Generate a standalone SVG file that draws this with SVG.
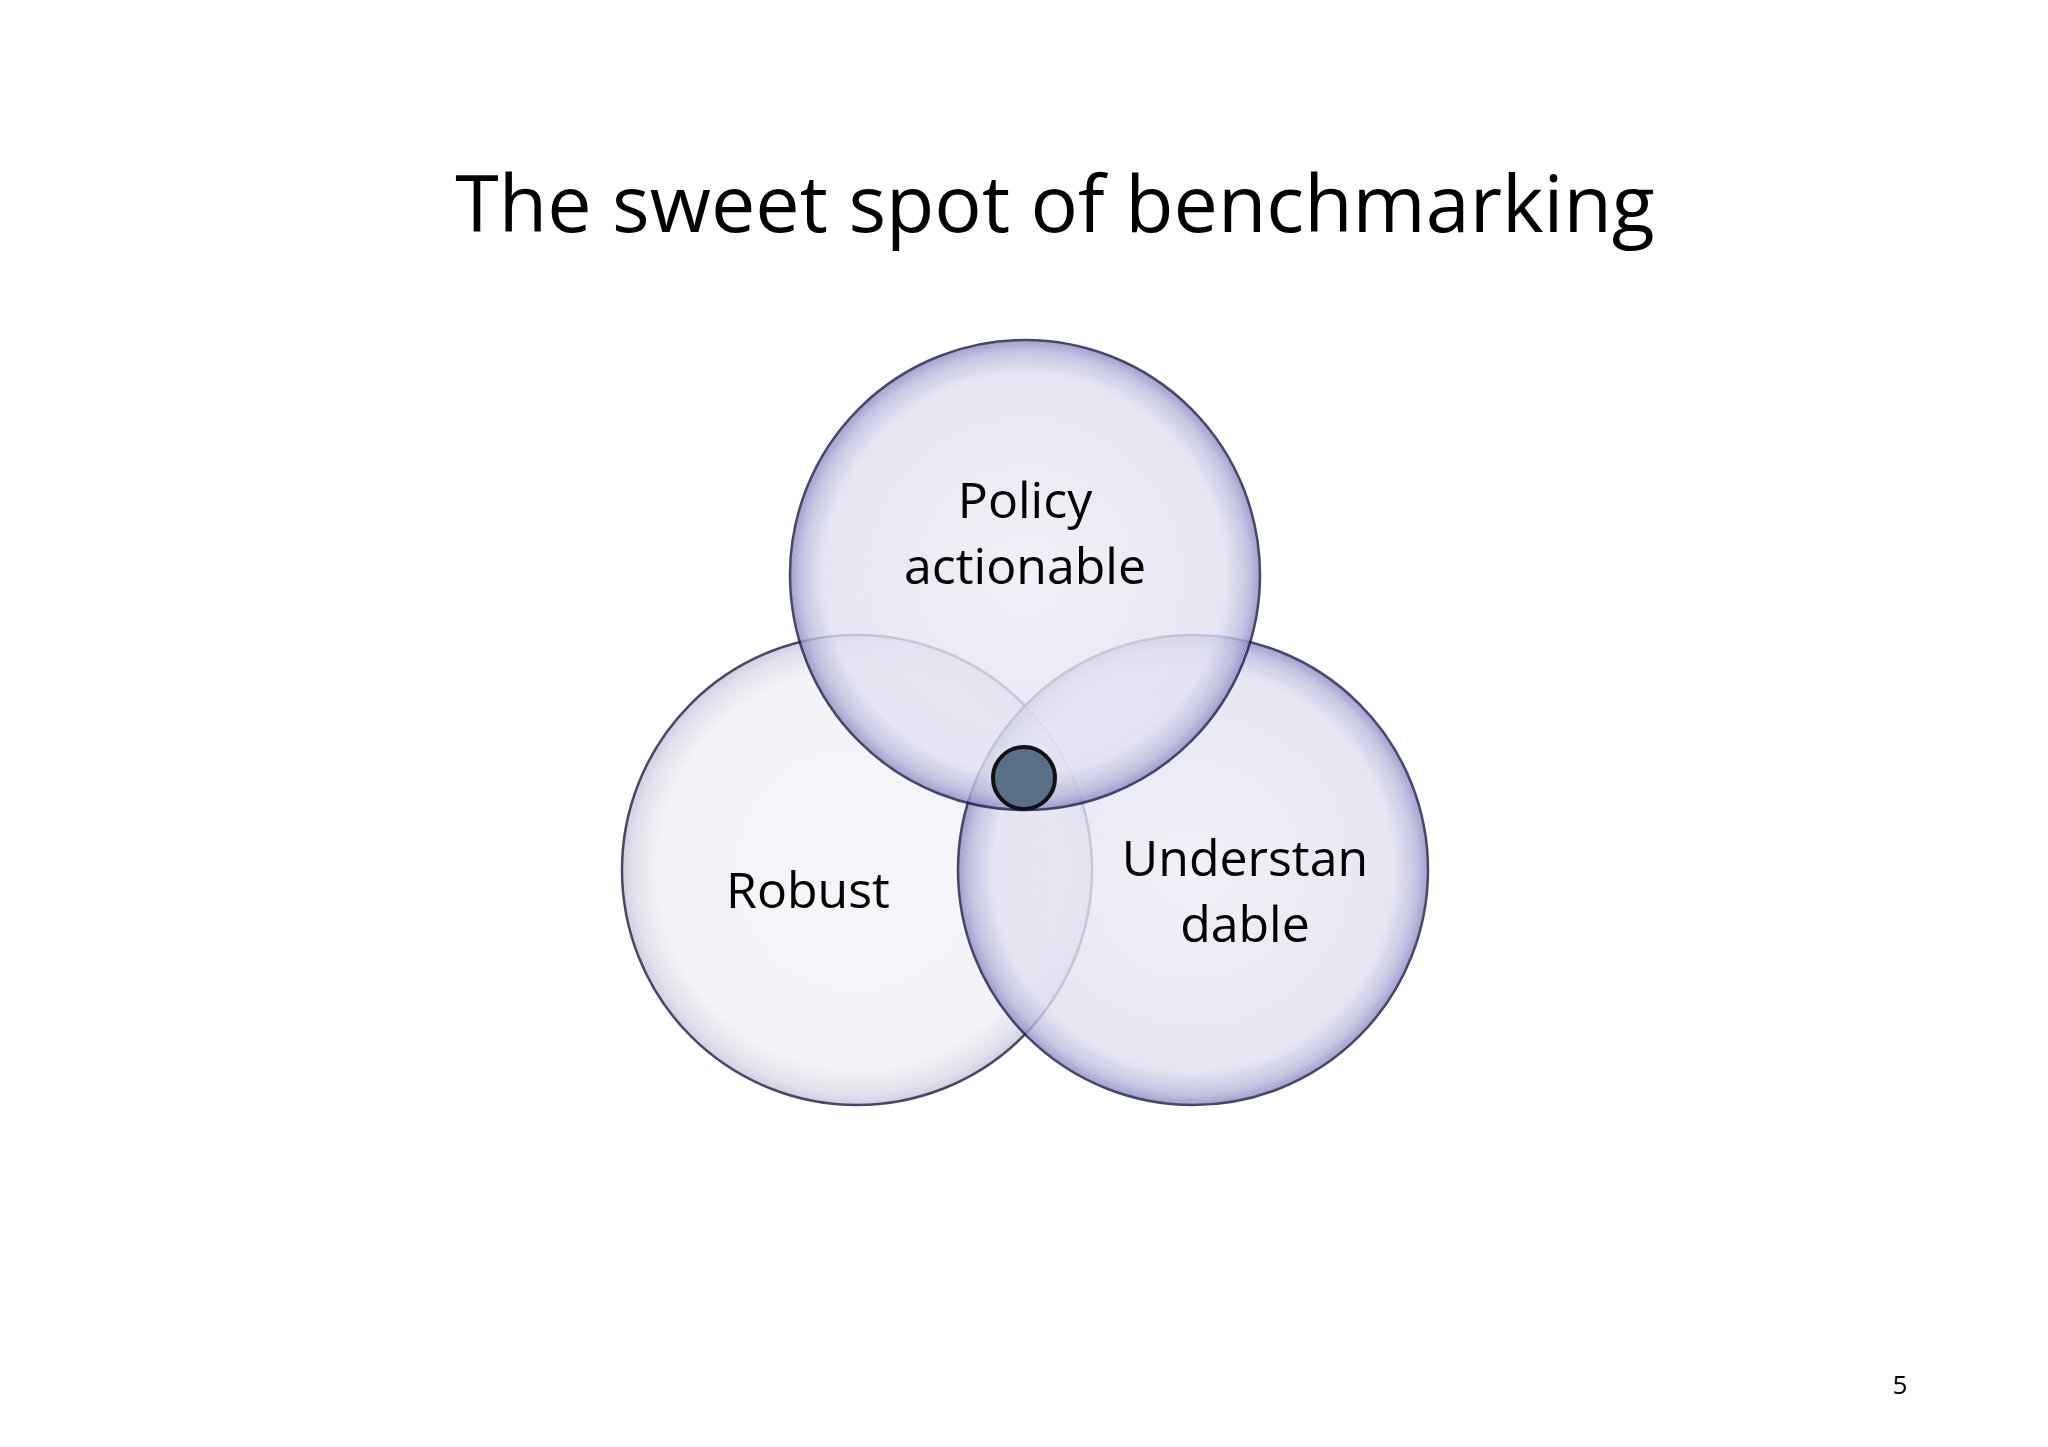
<svg xmlns="http://www.w3.org/2000/svg" width="2048" height="1447" viewBox="0 0 2048 1447">
<defs>
<radialGradient id="gb" cx="50%" cy="50%" r="50%">
<stop offset="0" stop-color="#eeeef8"/><stop offset="0.85" stop-color="#e2e2f2"/><stop offset="0.95" stop-color="#b8b8dc"/><stop offset="1" stop-color="#8a8ac4"/>
</radialGradient>
<radialGradient id="gl" cx="50%" cy="50%" r="50%">
<stop offset="0" stop-color="#f6f6fa"/><stop offset="0.85" stop-color="#efeff6"/><stop offset="0.95" stop-color="#dcdcea"/><stop offset="1" stop-color="#c4c4da"/>
</radialGradient>
</defs>
<style>
.c{stroke:#1a1a48;stroke-width:2.5;opacity:0.8}
.t{font-family:"Open Sans","Liberation Sans",sans-serif;fill:#000;text-anchor:middle}
.l{font-size:50px}
</style>
<rect width="2048" height="1447" fill="#fff"/>
<text class="t" x="1055" y="232" font-size="79">The sweet spot of benchmarking</text>
<g id="robust"><circle class="c" cx="857" cy="870" r="235" fill="url(#gl)"/></g>
<g id="understandable"><circle class="c" cx="1193" cy="870" r="235" fill="url(#gb)"/></g>
<g id="policy"><circle class="c" cx="1025" cy="575" r="235" fill="url(#gb)"/></g>
<g id="labels">
<text class="t l" x="1025" y="518">Policy</text>
<text class="t l" x="1025" y="584">actionable</text>
<text class="t l" x="808" y="908">Robust</text>
<text class="t l" x="1245" y="876">Understan</text>
<text class="t l" x="1245" y="942">dable</text>
</g>
<g id="spot"><circle cx="1024" cy="778" r="31" fill="#5a7088" stroke="#111" stroke-width="4"/></g>
<text class="t" x="1900" y="1394" font-size="26">5</text>
</svg>
